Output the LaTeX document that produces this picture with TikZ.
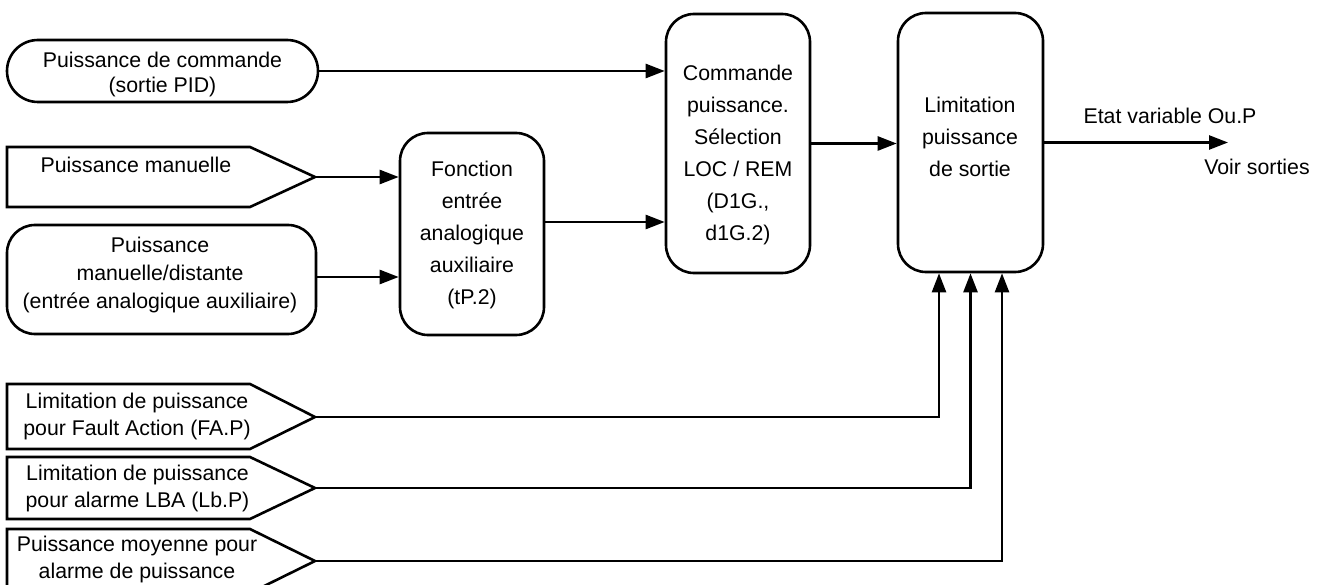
\documentclass[tikz,border=0pt]{standalone}
\usepackage{fontspec}
\setmainfont{Liberation Sans}
\usetikzlibrary{arrows.meta,calc}
\begin{document}
\begin{tikzpicture}[x=1pt,y=-1pt,
  box/.style={draw, line width=2.6pt, rounded corners=28pt, inner sep=0pt},
  tagline/.style={draw, line width=2.6pt, line join=miter},
  txt/.style={align=center, inner sep=0pt, font=\fontsize{21.3}{#1}\selectfont},
  txt/.default=25,
  flow/.style={line width=2.5pt, -{Triangle[length=19pt,width=14pt]}}]
\useasboundingbox (0,0) rectangle (1321,585);

% input blocks
\node[box, rounded corners=31pt, minimum width=311pt, minimum height=62pt] (pid) at (162.5,71) {};
\node[txt=25] (pidT) at (162.5,74) {Puissance de commande\\(sortie PID)};

\draw[tagline] (7,147) -- (250,147) -- (315,177) -- (250,207) -- (7,207) -- cycle;
\coordinate (man) at (315,177);
\node[txt] (manT) at (136,164.4) {Puissance manuelle};

\node[box, minimum width=309pt, minimum height=109pt] (dist) at (161.5,279.5) {};
\node[txt=28] (distT) at (160,274.5) {Puissance\\manuelle/distante\\(entrée analogique auxiliaire)};

% processing blocks
\node[box, minimum width=144pt, minimum height=202pt] (aux) at (472,234) {};
\node[txt=32] (auxT) at (472,234.5) {Fonction\\entrée\\analogique\\auxiliaire\\(tP.2)};

\node[box, minimum width=144pt, minimum height=259pt] (sel) at (738,143.5) {};
\node[txt=32] (selT) at (738,154.5) {Commande\\puissance.\\Sélection\\LOC / REM\\(D1G.,\\d1G.2)};

\node[box, minimum width=145pt, minimum height=259pt] (lim) at (970.5,142.5) {};
\node[txt=32] (limT) at (970,136.4) {Limitation\\puissance\\de sortie};

% limit inputs
\draw[tagline] (7,384) -- (250,384) -- (315,417) -- (250,449) -- (7,449) -- cycle;
\coordinate (fa) at (315,417);
\node[txt=27] (faT) at (137,416) {Limitation de puissance\\pour Fault Action (FA.P)};

\draw[tagline] (7,457) -- (250,457) -- (315,488) -- (250,519) -- (7,519) -- cycle;
\coordinate (lb) at (315,488);
\node[txt=27] (lbT) at (137.5,488) {Limitation de puissance\\pour alarme LBA (Lb.P)};

\draw[tagline] (7,529) -- (250,529) -- (315,561) -- (250,593) -- (7,593) -- cycle;
\coordinate (avg) at (315,561);
\node[txt=27] (avgT) at (137,559.6) {Puissance moyenne pour\\alarme de puissance};

% output
\coordinate (out) at (1228,142.5);
\node[txt] (etat) at (1170,116) {Etat variable Ou.P};
\node[txt] (voir) at (1257,167) {Voir sorties};

% connectors
\draw[flow] (pid.east) -- (pid.east -| sel.west);
\draw[flow] (man) -- (man -| aux.west);
\draw[flow] ([yshift=2.5pt]dist.east) -- ([yshift=2.5pt]dist.east -| aux.west);
\draw[flow] ([yshift=12pt]aux.east) -- ([yshift=12pt]aux.east -| sel.west);
\draw[flow] (sel.east) -- (sel.east -| lim.west);
\draw[flow] (lim.east) -- (out);
\draw[flow] (fa) -| ([xshift=-31.5pt]lim.south);
\draw[flow] (lb) -| (lim.south);
\draw[flow] (avg) -| ([xshift=31.5pt]lim.south);
\end{tikzpicture}
\end{document}
